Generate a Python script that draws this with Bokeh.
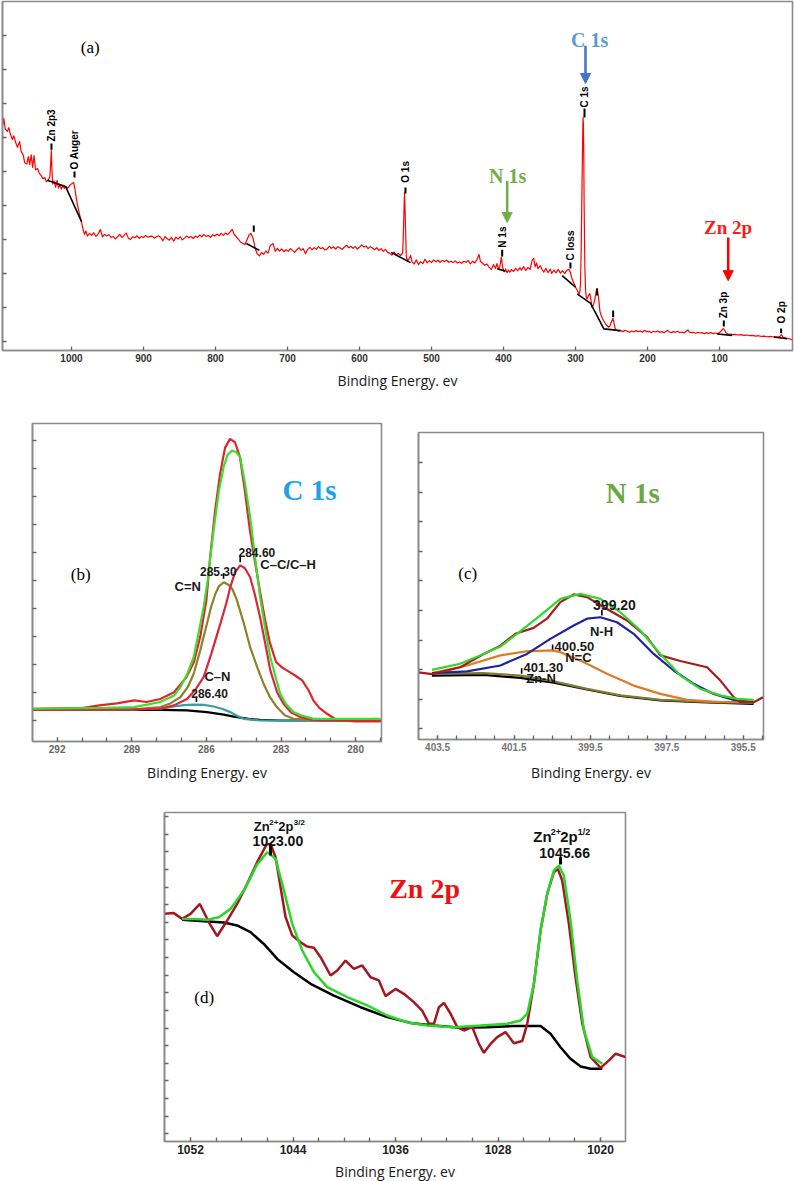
import math
from bokeh.plotting import figure
from bokeh.models import Range1d, FixedTicker, Title, Arrow, NormalHead, Spacer
from bokeh.layouts import column, row
from bokeh.embed import file_html
from bokeh.resources import INLINE
from bokeh.core.properties import value

SANS = "Liberation Sans"
SERIF = "Liberation Serif"
TFONT = "Open Sans"
AXIS_TITLE = "Binding Energy. ev"

# ---------------- (a) survey spectrum ----------------
survey_ev = [1096, 1094, 1092, 1089, 1087, 1085, 1082, 1080, 1077, 1075, 1072, 1070, 1067, 1065, 1062, 1060, 1058, 1056,
             1054, 1052, 1050, 1047, 1045, 1042, 1040, 1037, 1035, 1032, 1030, 1029, 1028, 1027, 1026, 1024, 1022, 1020,
             1018, 1016, 1014, 1012, 1010, 1008, 1005, 1002, 999, 997, 995, 992, 989, 986, 984, 982, 980, 978, 975,
             972, 969, 966, 963, 960, 957, 954, 951, 948, 945, 942, 939, 936, 933, 930, 927, 924, 921, 918, 915, 912,
             909, 906, 903, 900, 897, 894, 891, 888, 885, 882, 879, 876, 873, 870, 867, 864, 861, 858, 855, 852, 849,
             846, 843, 840, 837, 834, 831, 828, 825, 822, 819, 816, 813, 810, 807, 804, 801, 798, 795, 792, 789, 786,
             783, 780, 777, 774, 771, 768, 765, 762, 759, 756, 753, 751, 748, 745, 742, 739, 736, 733, 730, 727, 724,
             720, 717, 714, 711, 708, 705, 702, 699, 696, 693, 690, 687, 684, 681, 678, 675, 672, 669, 666, 663, 660,
             657, 654, 651, 648, 645, 642, 639, 636, 633, 630, 627, 624, 621, 618, 615, 612, 609, 606, 603, 600, 597,
             594, 591, 588, 585, 582, 579, 576, 573, 570, 567, 564, 561, 558, 555, 552, 549, 546, 543, 540, 539, 538,
             537.5, 537, 536, 535, 533, 531, 529, 527, 524, 521, 518, 515, 512, 509, 506, 503, 500, 497, 494, 491, 488,
             485, 482, 479, 476, 473, 470, 467, 464, 461, 458, 455, 452, 449, 446, 443, 440, 437, 434, 432, 429, 426,
             423, 420, 417, 414, 411, 409, 407, 405, 403, 401, 399, 397, 395, 393, 391, 389, 386, 383, 380, 377, 375,
             372, 369, 366, 363, 360, 358, 356, 354, 352, 349, 346, 344, 341, 338, 335, 333, 330, 327, 324, 321, 318,
             315, 312, 309, 307, 305, 302, 299, 297, 295, 294, 293, 292, 291, 290, 289.5, 289, 288.5, 288, 287, 286,
             285, 284, 282, 280, 278, 277, 275, 273, 271, 270, 268, 266, 264, 262, 260, 258, 256, 254, 252, 250, 248,
             247, 245, 243, 240, 237, 234, 231, 228, 225, 222, 219, 216, 213, 210, 207, 204, 201, 198, 195, 192, 189,
             186, 183, 180, 177, 174, 172, 170, 167, 164, 161, 158, 155, 152, 149, 146, 144, 142, 139, 136, 133, 130,
             127, 124, 121, 118, 115, 112, 109, 106, 103, 100, 97, 95, 93, 91, 88, 85, 82, 78, 74, 70, 66, 62, 58, 54,
             50, 46, 42, 38, 34, 30, 26, 22, 18, 16, 14, 12, 9, 6, 3, 0, -1.4]
survey_counts = [63.0, 65.6, 62.5, 61.8, 62.9, 61.0, 59.4, 60.5, 58.2, 57.1, 58.8, 56.0, 54.8, 52.6, 52.2, 54.4, 52.0,
                 54.9, 51.2, 54.7, 50.5, 50.9, 49.5, 48.8, 47.9, 48.2, 47.0, 47.6, 48.5, 52.0, 56.2, 50.0, 46.3, 47.2,
                 45.3, 47.4, 45.1, 46.2, 44.8, 46.0, 45.0, 45.6, 45.1, 46.0, 46.5, 46.8, 44.5, 40.5, 37.5, 35.0, 33.0,
                 31.5, 32.5, 31.0, 31.8, 31.2, 32.0, 30.9, 31.6, 32.9, 30.8, 31.5, 31.0, 31.4, 30.6, 30.9, 30.2, 30.8,
                 31.5, 30.6, 31.2, 31.9, 30.4, 30.0, 30.8, 30.5, 31.1, 30.3, 30.9, 30.6, 31.2, 30.7, 30.9, 31.0, 30.4,
                 30.8, 31.1, 30.6, 29.6, 30.9, 30.2, 29.8, 30.6, 29.5, 30.7, 30.1, 30.8, 29.9, 30.4, 31.0, 30.5, 30.9,
                 30.3, 31.0, 30.6, 31.3, 30.8, 31.5, 30.9, 31.2, 30.6, 31.4, 31.0, 31.6, 31.1, 31.8, 31.2, 31.9, 31.4,
                 32.2, 33.0, 31.5, 30.8, 30.0, 29.2, 28.8, 28.5, 30.0, 31.5, 31.8, 30.5, 27.5, 25.8, 25.2, 26.2, 25.6,
                 26.6, 26.0, 28.2, 28.8, 26.5, 27.4, 26.6, 27.2, 26.4, 27.0, 26.5, 27.3, 26.8, 26.2, 27.0, 27.6, 26.8,
                 27.3, 25.8, 27.1, 27.7, 27.0, 27.6, 27.1, 27.9, 27.3, 27.6, 26.9, 27.2, 28.0, 27.4, 27.8, 27.2, 27.9,
                 27.5, 27.1, 27.8, 28.3, 27.6, 28.0, 27.4, 27.9, 27.2, 27.7, 28.4, 27.8, 28.1, 27.3, 27.9, 27.5, 27.0,
                 27.6, 26.8, 27.3, 26.5, 27.1, 26.2, 26.0, 25.4, 26.3, 25.5, 25.9, 25.3, 26.0, 32.0, 40.0, 43.8, 41.0,
                 33.0, 25.0, 23.6, 24.4, 25.3, 23.4, 22.8, 24.0, 22.6, 23.5, 22.9, 24.2, 23.1, 23.8, 23.2, 24.0, 23.4,
                 23.9, 23.3, 23.8, 23.5, 23.9, 23.3, 23.6, 23.2, 23.7, 23.1, 23.4, 23.0, 23.6, 23.3, 23.8, 22.8, 23.6,
                 23.1, 24.0, 25.6, 23.5, 23.0, 22.4, 22.8, 21.9, 21.2, 22.6, 21.5, 22.9, 21.4, 22.0, 24.8, 21.6, 20.5,
                 21.3, 20.2, 21.0, 20.4, 21.2, 20.6, 21.5, 20.8, 21.7, 21.0, 22.0, 20.9, 21.8, 21.2, 24.0, 24.4, 22.0,
                 23.1, 21.4, 22.3, 21.0, 20.4, 21.5, 20.2, 21.3, 20.0, 21.0, 20.2, 21.2, 20.1, 20.8, 20.0, 21.0, 21.2,
                 20.3, 18.5, 17.0, 15.6, 14.8, 14.0, 14.6, 17.0, 28.0, 45.0, 60.0, 65.9, 64.0, 55.0, 40.0, 22.0, 15.0,
                 13.0, 12.5, 13.5, 14.1, 11.5, 10.0, 10.8, 12.5, 15.0, 15.6, 13.0, 8.8, 7.5, 6.5, 5.8, 5.0, 4.7, 4.2,
                 4.6, 5.8, 6.8, 6.0, 3.9, 3.3, 3.0, 3.2, 2.9, 3.3, 3.0, 2.7, 3.1, 2.8, 3.2, 2.9, 3.1, 2.7, 3.3, 2.9, 3.0,
                 2.6, 3.0, 2.8, 3.1, 2.7, 2.9, 2.6, 3.0, 3.3, 2.8, 2.6, 2.9, 2.7, 3.0, 2.6, 2.8, 2.5, 3.1, 3.4, 2.8, 2.6,
                 2.7, 2.4, 2.7, 2.5, 2.6, 2.3, 2.6, 2.4, 2.6, 2.3, 2.5, 2.3, 2.6, 3.3, 3.8, 3.4, 2.6, 2.1, 2.2, 2.0, 2.1,
                 1.9, 2.0, 1.8, 1.9, 1.7, 1.8, 1.6, 1.7, 1.5, 1.6, 1.4, 1.5, 1.4, 1.3, 1.4, 1.5, 2.0, 1.3, 1.1, 0.9, 0.8,
                 0.6, 0.5]
survey_bg_ev = [[1033.8, 1008.3, 986.1], [757.0, 738.9], [556.0, 529.2], [408.8, 397.2], [318.5, 300.0],
                [297.7, 279.0, 260.6, 237.5], [103.2, 82.4], [24.5, 6.0]]
survey_bg_counts = [[47.4, 45.6, 35.3], [28.8, 26.8], [26.2, 23.2], [21.4, 20.7], [19.4, 16.0],
                    [14.0, 11.2, 3.7, 3.2], [2.2, 1.8], [1.3, 0.8]]
peak_names = ["Zn 2p3", "O Auger", "O 1s", "N 1s", "C loss", "C 1s", "Zn 3p", "O 2p"]
peak_name_ev = [1027.8, 995.8, 536.1, 401.8, 307.0, 287.5, 94.0, 14.4]
peak_name_counts = [58.8, 50.6, 46.7, 27.6, 23.8, 68.8, 6.8, 5.3]
peak_mark_ev = [1027.8, 995.8, 746.8, 536.1, 401.8, 307.0, 287.5, 270.0, 247.7, 94.0, 14.4]
peak_mark_lo = [56.4, 48.2, 32.3, 43.5, 25.0, 21.5, 65.9, 13.5, 7.1, 4.4, 2.4]
peak_mark_hi = [58.2, 50.0, 34.1, 45.3, 27.0, 23.2, 68.5, 15.6, 9.1, 6.2, 3.8]
survey_ticks = [100, 200, 300, 400, 500, 600, 700, 800, 900, 1000]

# ---------------- (b) C 1s ----------------
c1s_raw_ev = [293.0, 291.0, 290.3, 289.6, 288.9, 288.4, 287.85, 287.3, 286.8, 286.5, 286.25, 286.0, 285.85, 285.65,
              285.45, 285.25, 285.05, 284.85, 284.65, 284.45, 284.25, 284.05, 283.85, 283.65, 283.45, 283.2, 282.95,
              282.65, 282.4, 282.15, 281.9, 281.7, 281.45, 281.15, 280.75, 280.0, 279.0]
c1s_raw = [0.43, 0.45, 0.55, 0.62, 0.73, 0.67, 0.78, 1.02, 1.56, 2.1, 2.99, 4.3, 5.84, 7.5, 8.82, 9.75, 10.07, 9.95,
           9.42, 8.2, 6.8, 5.7, 4.65, 3.65, 2.8, 2.1, 1.9, 1.74, 1.6, 1.44, 1.1, 0.73, 0.45, 0.25, 0.02, -0.02, -0.02]
c1s_fit_ev = [293.0, 290.0, 288.9, 287.85, 287.3, 287.05, 286.78, 286.51, 286.3, 286.11, 285.95, 285.71, 285.5,
              285.31, 285.15, 284.97, 284.8, 284.64, 284.45, 284.24, 284.05, 283.84, 283.6, 283.43, 283.2, 283.03,
              282.8, 282.5, 282.2, 281.69, 281.0, 279.0]
c1s_fit = [0.43, 0.46, 0.49, 0.67, 0.9, 1.2, 1.65, 2.27, 3.2, 4.06, 5.0, 6.8, 8.2, 9.06, 9.5, 9.65, 9.6, 9.42, 8.5,
           7.27, 5.9, 4.42, 3.1, 2.27, 1.5, 0.96, 0.6, 0.31, 0.2, 0.07, 0.07, 0.07]
c1s_cdn_ev = [293.0, 289.0, 287.85, 287.45, 287.05, 286.75, 286.51, 286.25, 285.98, 285.8, 285.64, 285.5, 285.3,
              285.1, 284.95, 284.77, 284.5, 284.24, 283.95, 283.7, 283.45, 283.17, 282.85, 282.5, 281.5, 279.0]
c1s_cdn = [0.39, 0.4, 0.49, 0.62, 0.84, 1.2, 1.68, 2.5, 3.46, 4.1, 4.53, 4.8, 4.95, 4.85, 4.7, 4.3, 3.5, 2.63, 1.9,
           1.32, 0.85, 0.49, 0.2, 0.07, 0.02, 0.01]
c1s_cc_ev = [293.0, 289.0, 287.85, 287.3, 286.78, 286.45, 286.11, 285.8, 285.44, 285.2, 285.04, 284.85, 284.64,
             284.45, 284.24, 284.05, 283.84, 283.6, 283.43, 283.15, 282.9, 282.6, 282.23, 281.8, 281.43, 279.0]
c1s_cc = [0.39, 0.4, 0.43, 0.55, 0.78, 1.1, 1.56, 2.4, 3.46, 4.2, 4.77, 5.3, 5.55, 5.45, 5.13, 4.5, 3.7, 2.6, 1.8,
          1.0, 0.61, 0.3, 0.13, 0.05, 0.01, 0.01]
c1s_cn_ev = [293.0, 287.85, 287.32, 286.9, 286.51, 286.1, 285.71, 285.35, 285.04, 284.75, 284.5, 284.1, 283.84, 279.0]
c1s_cn = [0.39, 0.43, 0.51, 0.56, 0.58, 0.57, 0.51, 0.42, 0.31, 0.17, 0.07, 0.03, 0.01, 0.01]
c1s_bg_ev = [293.0, 287.85, 286.78, 285.98, 285.3, 284.9, 284.3, 283.84, 283.0, 282.23, 279.0]
c1s_bg = [0.39, 0.39, 0.37, 0.31, 0.22, 0.15, 0.07, 0.03, 0.01, 0.01, 0.01]
c1s_peaks = ["285.30", "284.60", "286.40"]
c1s_peak_ev = [285.31, 284.64, 286.40]
c1s_ticks = [280, 283, 286, 289, 292]

# ---------------- (c) N 1s ----------------
n1s_raw_ev = [403.996, 403.647, 402.905, 402.295, 401.858, 401.466, 400.986, 400.637, 400.287, 399.938, 399.59,
              399.066, 398.542, 398.019, 397.67, 397.146, 396.448, 396.099, 395.75, 395.576, 395.227, 394.982]
n1s_raw = [1.91, 1.85, 2.08, 2.53, 2.81, 3.21, 3.41, 3.72, 4.28, 4.54, 4.45, 4.05, 3.66, 3.1, 2.48, 2.29, 2.08, 1.63,
           1.07, 0.9, 0.9, 1.07]
n1s_fit_ev = [403.647, 402.905, 402.295, 401.858, 401.422, 400.811, 400.287, 399.764, 399.24, 398.717, 398.193,
              397.67, 397.146, 396.623, 396.099, 395.663, 395.227]
n1s_fit = [1.99, 2.2, 2.53, 2.78, 3.21, 3.83, 4.39, 4.56, 4.39, 3.94, 3.32, 2.53, 1.8, 1.35, 1.13, 1.01, 0.98]
n1s_nh_ev = [403.647, 402.731, 401.858, 401.16, 400.549, 399.938, 399.59, 399.24, 398.804, 398.368, 397.845,
             397.321, 396.797, 396.274, 395.75, 395.227]
n1s_nh = [1.88, 1.94, 2.14, 2.53, 3.04, 3.49, 3.72, 3.77, 3.6, 3.21, 2.53, 1.97, 1.52, 1.18, 0.98, 0.9]
n1s_nc_ev = [403.647, 402.731, 401.858, 401.16, 400.5, 400.287, 399.764, 399.066, 398.368, 397.67, 396.972,
             396.099, 395.227]
n1s_nc = [1.88, 2.14, 2.48, 2.62, 2.65, 2.59, 2.31, 1.86, 1.46, 1.18, 0.98, 0.9, 0.9]
n1s_znn_ev = [403.647, 402.295, 401.335, 400.549, 399.59, 398.717, 397.67, 396.5, 395.227]
n1s_znn = [1.86, 1.88, 1.8, 1.63, 1.35, 1.13, 0.98, 0.91, 0.88]
n1s_bg_ev = [403.647, 402.295, 401.335, 400.462, 399.59, 398.717, 397.67, 396.623, 395.227]
n1s_bg = [1.8, 1.82, 1.72, 1.56, 1.33, 1.11, 0.96, 0.9, 0.84]
n1s_peaks = ["399.20", "400.50", "401.30"]
n1s_peak_ev = [399.20, 400.49, 401.30]
n1s_ticks = [395.5, 397.5, 399.5, 401.5, 403.5]

# ---------------- (d) Zn 2p ----------------
zn_raw_ev = [1054.03, 1053.3, 1052.65, 1052.0, 1051.27, 1050.57, 1049.92, 1049.14, 1048.36, 1047.58, 1046.8,
             1046.07, 1045.75, 1045.36, 1044.97, 1044.58, 1044.06, 1043.41, 1042.89, 1042.37, 1041.85, 1041.07,
             1040.55, 1039.9, 1039.25, 1038.6, 1037.95, 1037.3, 1036.78, 1036.0, 1035.35, 1034.57, 1033.92, 1033.39,
             1033.0, 1032.61, 1032.22, 1031.7, 1031.18, 1030.66, 1030.01, 1029.49, 1029.1, 1028.58, 1028.06,
             1027.41, 1026.76, 1026.11, 1025.72, 1025.2, 1024.68, 1024.16, 1023.64, 1023.33, 1022.99, 1022.47,
             1021.95, 1021.42, 1020.77, 1019.99, 1019.34, 1018.82, 1018.04]
zn_raw = [12.48, 12.52, 12.19, 12.48, 13.04, 12.0, 11.21, 12.1, 13.04, 14.18, 15.41, 16.41, 16.45, 15.69, 13.99,
          12.29, 11.25, 10.87, 10.62, 10.55, 10.02, 8.98, 9.26, 9.83, 9.36, 9.55, 8.88, 8.7, 7.81, 8.22, 7.94, 7.47,
          6.99, 6.24, 6.24, 7.18, 7.43, 6.81, 6.05, 5.86, 6.05, 5.1, 4.59, 5.1, 5.48, 5.77, 5.14, 5.26, 6.24, 8.51,
          11.53, 13.61, 14.84, 15.03, 14.37, 11.91, 8.88, 6.24, 4.35, 3.74, 4.16, 4.54, 4.35]
zn_fit_ev = [1052.65, 1051.74, 1050.7, 1049.79, 1048.88, 1047.84, 1046.8, 1046.01, 1045.36, 1044.71, 1044.06,
             1043.28, 1042.37, 1041.33, 1039.77, 1038.21, 1036.65, 1035.09, 1033.53, 1031.44, 1029.36, 1027.28,
             1026.24, 1025.72, 1025.2, 1024.68, 1024.16, 1023.64, 1023.25, 1022.86, 1022.34, 1021.82, 1021.29,
             1020.64, 1019.86]
zn_fit = [12.19, 12.19, 12.14, 12.29, 12.76, 13.8, 15.28, 15.98, 15.6, 13.8, 11.91, 10.4, 9.17, 8.32, 7.75, 7.28,
          6.71, 6.33, 6.14, 6.05, 6.14, 6.24, 6.43, 6.81, 8.51, 11.53, 13.61, 14.94, 15.22, 14.65, 12.1, 8.7, 5.86,
          4.35, 3.97]
zn_bg_ev = [1052.65, 1050.96, 1049.4, 1048.36, 1047.32, 1046.28, 1045.23, 1043.93, 1042.63, 1040.81, 1038.73,
            1036.65, 1034.83, 1033.0, 1030.92, 1028.84, 1026.76, 1024.68, 1023.9, 1023.12, 1022.34, 1021.55,
            1020.77, 1019.86]
zn_bg = [12.14, 12.06, 11.99, 11.82, 11.44, 10.77, 9.92, 9.17, 8.51, 7.84, 7.18, 6.62, 6.29, 6.14, 6.01, 6.05,
         6.11, 6.11, 5.67, 4.91, 4.25, 3.82, 3.69, 3.69]
zn_peaks = ["1023.00", "1045.66"]
zn_peak_ev = [1045.75, 1023.12]
zn_ticks = [1020, 1028, 1036, 1044, 1052]


def make_panel(xr, yr, fw, fh, bl, br, bt, bb, xticks, minor, yticks, lab_size, lab_color, title_off, title_standoff):
    p = figure(x_range=Range1d(*xr), y_range=Range1d(*yr), frame_width=fw, frame_height=fh,
               min_border_left=bl, min_border_right=br, min_border_top=bt, min_border_bottom=bb,
               output_backend="svg", toolbar_location=None)
    p.grid.visible = False
    p.outline_line_color = "#8c8c8c"
    p.outline_line_width = 1.6
    p.background_fill_color = "white"
    p.border_fill_color = "white"
    for ax in (p.xaxis[0], p.yaxis[0]):
        ax.axis_line_color = "#8c8c8c"
        ax.axis_line_width = 1.6
        ax.major_tick_in = 4
        ax.major_tick_out = 0
        ax.minor_tick_in = 4
        ax.minor_tick_out = 0
        ax.major_tick_line_color = "#666666"
        ax.minor_tick_line_color = "#666666"
        ax.major_tick_line_width = 1.3
        ax.minor_tick_line_width = 1.3
    p.xaxis.ticker = FixedTicker(ticks=xticks, minor_ticks=minor)
    if not minor:
        p.xaxis.minor_tick_line_color = None
    # unlabelled intensity ticks: drawn as minor ticks only
    p.yaxis.ticker = FixedTicker(ticks=[], minor_ticks=yticks)
    p.yaxis.major_label_standoff = 0
    p.xaxis.major_label_text_font = SANS
    p.xaxis.major_label_text_font_style = "bold"
    p.xaxis.major_label_text_font_size = lab_size
    p.xaxis.major_label_text_color = lab_color
    p.xaxis.major_label_standoff = 3
    t = Title(text=AXIS_TITLE, align="center", offset=title_off, text_font=TFONT, text_font_size="14px",
              text_font_style="normal", text_color="#1a1a1a", standoff=title_standoff)
    p.add_layout(t, "below")
    return p


# ---------- panel (a) ----------
pa = make_panel((1095.8, -1.4), (-2.65, 100.0), 790, 349, 2, 2, 1, 45, survey_ticks, [], list(range(0, 100, 10)),
                "10px", "#333333", 0, 8)
pa.line(survey_ev, survey_counts, line_color="#ff0000", line_width=1.2, line_join="round")
pa.multi_line(survey_bg_ev, survey_bg_counts, line_color="black", line_width=1.6)
pa.segment(x0=peak_mark_ev, y0=peak_mark_lo, x1=peak_mark_ev, y1=peak_mark_hi, line_color="black", line_width=2)
pa.text(x=peak_name_ev, y=peak_name_counts, text=peak_names, angle=math.pi / 2, text_align="left",
        text_baseline="middle", text_font=value(SANS), text_font_size="10px", text_font_style="bold",
        text_color="black")
for name, x, y, col, size in [("C 1s", 280.3, 88.7, "#5b9bd5", "20px"), ("N 1s", 394.2, 48.8, "#70ad47", "20px"),
                              ("Zn 2p", 88.2, 33.6, "#ff1a1a", "19px")]:
    pa.text(x=[x], y=[y], text=[name], text_align="center", text_baseline="alphabetic", text_font=value(SERIF),
            text_font_size=size, text_font_style="bold", text_color=col)
for x, y0, y1, col in [(286.1, 87.0, 75.9, "#4472c4"), (394.9, 47.3, 35.0, "#70ad47"), (87.9, 30.6, 17.9, "#ff0000")]:
    pa.add_layout(Arrow(end=NormalHead(size=10, fill_color=col, line_color=col, line_width=1), x_start=x, y_start=y0,
                        x_end=x, y_end=y1, line_color=col, line_width=2.5))
pa.text(x=[974.0], y=[86.5], text=["(a)"], text_align="center", text_baseline="alphabetic", text_font=value(SERIF),
        text_font_size="17px", text_color="black")

# ---------- panel (b) ----------
pb = make_panel((292.99, 278.96), (-0.74, 10.62), 349, 318, 32, 19, 28, 49, c1s_ticks, list(range(279, 294)),
                list(range(0, 11)), "10px", "#666666", 13, 10)
pb.line(c1s_bg_ev, c1s_bg, line_color="black", line_width=2.2)
pb.line(c1s_cn_ev, c1s_cn, line_color="#3a9aa6", line_width=2.2)
pb.line(c1s_cdn_ev, c1s_cdn, line_color="#8c8228", line_width=2.2)
pb.line(c1s_cc_ev, c1s_cc, line_color="#d8283a", line_width=2.2)
pb.line(c1s_raw_ev, c1s_raw, line_color="#e0242c", line_width=2.2)
pb.line(c1s_fit_ev, c1s_fit, line_color="#3ddc2e", line_width=2.2)
pb.segment(x0=c1s_peak_ev, y0=[5.07, 5.66, 0.67], x1=c1s_peak_ev, y1=[5.27, 5.88, 0.87], line_color="black",
           line_width=1.6)
pb.text(x=[285.52, 283.97, 285.87], y=[5.33, 6.0, 0.99], text=c1s_peaks, text_align="center",
        text_baseline="alphabetic", text_font=value(SANS), text_font_size="12px", text_font_style="bold",
        text_color="#1a1a1a")
pb.text(x=[286.75], y=[4.8], text=["C=N"], text_align="center", text_baseline="alphabetic", text_font=value(SANS),
        text_font_size="13px", text_font_style="bold", text_color="#1a1a1a")
pb.text(x=[283.83, 286.08], y=[5.57, 1.58], text=["C–C/C–H", "C–N"], text_align="left", text_baseline="alphabetic",
        text_font=value(SANS), text_font_size="13px", text_font_style="bold", text_color="#1a1a1a")
pb.text(x=[281.85], y=[8.25], text=["C 1s"], text_align="center", text_baseline="alphabetic", text_font=value(SERIF),
        text_font_size="29px", text_font_style="bold", text_color="#1aa3e8")
pb.text(x=[291.05], y=[5.21], text=["(b)"], text_align="center", text_baseline="alphabetic", text_font=value(SERIF),
        text_font_size="17px", text_color="black")

# ---------- panel (c) ----------
n_minor = [395.0 + 0.5 * i for i in range(19)]
pc = make_panel((404.0, 394.97), (-0.36, 10.01), 345, 307, 18, 31, 37, 51, n1s_ticks, n_minor, list(range(0, 10)),
                "10px", "#777777", 6, 14)
pc.line(n1s_bg_ev, n1s_bg, line_color="black", line_width=2.2)
pc.line(n1s_znn_ev, n1s_znn, line_color="#7c7a34", line_width=2.2)
pc.line(n1s_nc_ev, n1s_nc, line_color="#e07a28", line_width=2.2)
pc.line(n1s_nh_ev, n1s_nh, line_color="#22229a", line_width=2.2)
pc.line(n1s_raw_ev, n1s_raw, line_color="#a51c1c", line_width=2.2)
pc.line(n1s_fit_ev, n1s_fit, line_color="#33d62a", line_width=2.2)
pc.segment(x0=n1s_peak_ev, y0=[3.83, 2.67, 1.86], x1=n1s_peak_ev, y1=[4.02, 2.85, 2.05], line_color="black",
           line_width=1.6)
pc.text(x=[398.87], y=[4.17], text=[n1s_peaks[0]], text_align="center", text_baseline="alphabetic",
        text_font=value(SANS), text_font_size="14px", text_font_style="bold", text_color="#1a1a1a")
pc.text(x=[400.44, 401.25], y=[2.78, 2.08], text=n1s_peaks[1:], text_align="left", text_baseline="alphabetic",
        text_font=value(SANS), text_font_size="13px", text_font_style="bold", text_color="#1a1a1a")
pc.text(x=[399.21], y=[3.3], text=["N-H"], text_align="center", text_baseline="alphabetic", text_font=value(SANS),
        text_font_size="13px", text_font_style="bold", text_color="#1a1a1a")
pc.text(x=[400.16, 401.18], y=[2.42, 1.69], text=["N=C", "Zn-N"], text_align="left", text_baseline="alphabetic",
        text_font=value(SANS), text_font_size="13px", text_font_style="bold", text_color="#1a1a1a")
pc.text(x=[398.39], y=[7.96], text=["N 1s"], text_align="center", text_baseline="alphabetic", text_font=value(SERIF),
        text_font_size="29px", text_font_style="bold", text_color="#6aa843")
pc.text(x=[402.71], y=[5.24], text=["(c)"], text_align="center", text_baseline="alphabetic", text_font=value(SERIF),
        text_font_size="17px", text_color="black")

# ---------- panel (d) ----------
zn_minor = list(range(1018, 1055, 2))
pd_ = make_panel((1054.03, 1018.05), (-0.44, 18.23), 461, 329, 14, 20, 22, 40, zn_ticks, zn_minor,
                 list(range(0, 19)), "12px", "#222222", 17, 6)
pd_.line(zn_bg_ev, zn_bg, line_color="black", line_width=2.5)
pd_.line(zn_raw_ev, zn_raw, line_color="#a31820", line_width=2.5)
pd_.line(zn_fit_ev, zn_fit, line_color="#2bd62b", line_width=2.5)
pd_.segment(x0=zn_peak_ev, y0=[15.79, 15.28], x1=zn_peak_ev, y1=[16.35, 15.69], line_color="black", line_width=3)
pd_.text(x=[1045.18, 1022.8], y=[16.6, 15.92], text=zn_peaks, text_align="center", text_baseline="alphabetic",
         text_font=value(SANS), text_font_size="14px", text_font_style="bold", text_color="#111111")
# Zn2+2p3/2 (left) and Zn2+2p1/2 (right), main text and superscripts
pd_.text(x=[1047.06, 1047.06], y=[17.43, 17.43], text=["Zn", "2p"], x_offset=[0, 24.5], text_align="left",
         text_baseline="alphabetic", text_font=value(SANS), text_font_size="13px", text_font_style="bold",
         text_color="#111111")
pd_.text(x=[1047.06, 1047.06], y=[17.67, 17.67], text=["2+", "3/2"], x_offset=[15.5, 40], text_align="left",
         text_baseline="alphabetic", text_font=value(SANS), text_font_size="8px", text_font_style="bold",
         text_color="#111111")
pd_.text(x=[1025.25, 1025.25], y=[16.88, 16.88], text=["Zn", "2p"], x_offset=[0, 27], text_align="left",
         text_baseline="alphabetic", text_font=value(SANS), text_font_size="15px", text_font_style="bold",
         text_color="#111111")
pd_.text(x=[1025.25, 1025.25], y=[17.12, 17.12], text=["2+", "1/2"], x_offset=[17.5, 44.5], text_align="left",
         text_baseline="alphabetic", text_font=value(SANS), text_font_size="9px", text_font_style="bold",
         text_color="#111111")
pd_.text(x=[1033.73], y=[13.9], text=["Zn 2p"], text_align="center", text_baseline="alphabetic",
         text_font=value(SERIF), text_font_size="28px", text_font_style="bold", text_color="#ee1111")
pd_.text(x=[1050.93], y=[7.71], text=["(d)"], text_align="center", text_baseline="alphabetic",
         text_font=value(SERIF), text_font_size="17px", text_color="black")

layout = column(row(pa), row(column(pb), column(pc)), row(Spacer(width=150, height=10), pd_))
open("out.html", "w").write(file_html(layout, INLINE))
